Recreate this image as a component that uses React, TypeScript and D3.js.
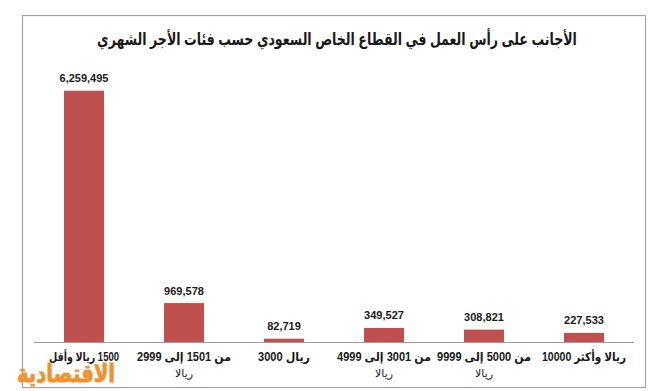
import React from "react";
import * as d3 from "d3";

// data
const categories = ["c1", "c2", "c3", "c4", "c5", "c6"];
const values = [6259495, 969578, 82719, 349527, 308821, 227533];
// label lines (rtl logical order), first line and second line
const labelLine1 = [
  "1500 ريالا وأقل",
  "من 1501 إلى 2999",
  "ريال 3000",
  "من 3001 إلى 4999",
  "من 5000 إلى 9999",
  "ريالا وأكثر 10000",
];
const labelLine2 = ["", "ريالا", "", "ريالا", "ريالا", ""];
const title = "الأجانب على رأس العمل في القطاع الخاص السعودي حسب فئات الأجر الشهري";
const watermark = "الاقتصادية";

const W = 660,
  H = 391;
const margin = { top: 61, right: 26, bottom: 49, left: 34 };
const baseY = H - margin.bottom;
const labelWidths = [70, 94, 52, 94, 94, 84];

const FONT = "'Liberation Sans', 'DejaVu Sans', sans-serif";

export default function App() {
  const x = d3
    .scaleBand()
    .domain(categories)
    .range([margin.left, W - margin.right])
    .paddingInner(0.6)
    .paddingOuter(0.3);
  const y = d3.scaleLinear().domain([0, 7000000]).range([baseY, margin.top]);
  const fmt = d3.format(",");

  return (
    <svg
      width={W}
      height={H}
      style={{ position: "absolute", left: 0, top: 0, background: "#fff" }}
      fontFamily={FONT}
    >
      {/* frame */}
      <rect x={22.5} y={15.5} width={623} height={372} fill="#fff" stroke="#a3a3a3" strokeWidth={1.2} />

      {/* title, squeezed horizontally to the reference width */}
      <g transform="translate(337,45) scale(0.74,1)">
        <text x={0} y={0} textAnchor="middle" fontSize={17} fontWeight="bold" fill="#1a1a1a" direction="rtl">
          {title}
        </text>
      </g>

      {/* bars */}
      {values.map((v, i) => (
        <rect
          key={"b" + i}
          x={x(categories[i])}
          y={y(v)}
          width={x.bandwidth()}
          height={baseY - y(v)}
          fill="#c0504d"
        />
      ))}

      {/* axis line */}
      <line x1={x.range()[0]} x2={x.range()[1]} y1={baseY + 0.5} y2={baseY + 0.5} stroke="#9a9a9a" strokeWidth={1} />

      {/* value labels */}
      {values.map((v, i) => (
        <text
          key={"v" + i}
          x={x(categories[i])! + x.bandwidth() / 2}
          y={y(v) - 8.5}
          textAnchor="middle"
          fontSize={11}
          fontWeight="bold"
          fill="#1a1a1a"
        >
          {fmt(v)}
        </text>
      ))}

      {/* category labels */}
      {categories.map((c, i) => {
        const cx = x(c)! + x.bandwidth() / 2;
        return (
          <g key={"l" + i}>
            <text
              x={cx}
              y={361}
              textAnchor="middle"
              direction="rtl"
              fontSize={12}
              fontWeight="bold"
              fill="#1a1a1a"
              textLength={labelWidths[i]}
              lengthAdjust="spacingAndGlyphs"
            >
              {labelLine1[i]}
            </text>
            {labelLine2[i] && (
              <text x={cx} y={377} textAnchor="middle" direction="rtl" fontSize={11} fill="#1a1a1a">
                {labelLine2[i]}
              </text>
            )}
          </g>
        );
      })}

      {/* watermark */}
      <text
        x={66}
        y={382}
        textAnchor="middle"
        direction="rtl"
        fontSize={25}
        fontWeight="bold"
        fill="#f3912a"
        stroke="#f3912a"
        strokeWidth={0.8}
        textLength={98}
        lengthAdjust="spacingAndGlyphs"
      >
        {watermark}
      </text>
    </svg>
  );
}
